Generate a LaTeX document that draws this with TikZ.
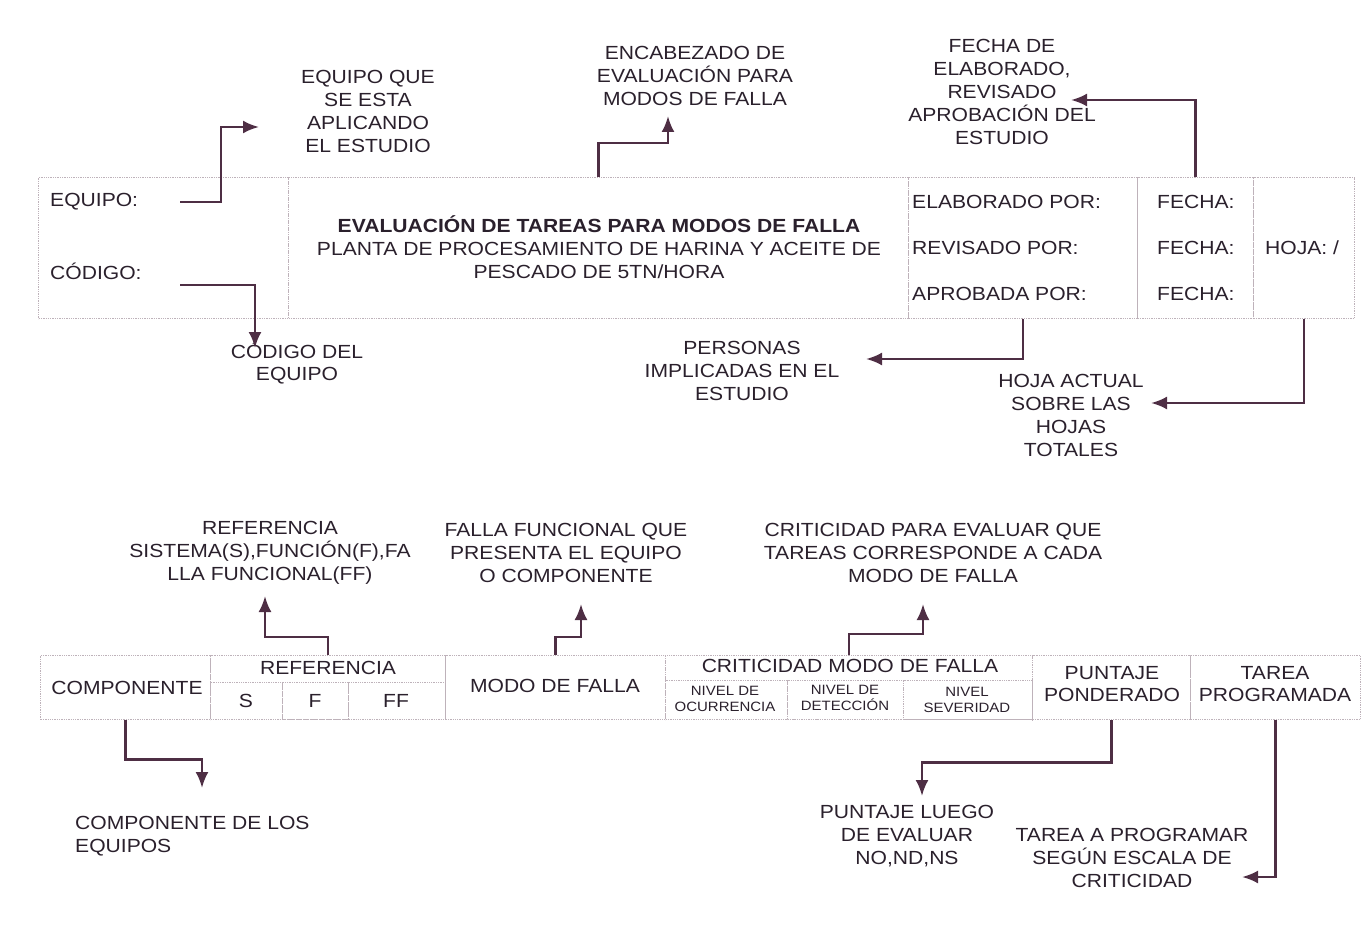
\documentclass[tikz,border=0pt]{standalone}
\usepackage{fontspec}
\setmainfont{Liberation Sans}[FakeStretch=1.11]
\usetikzlibrary{positioning,arrows.meta}
\definecolor{ink}{RGB}{42,32,44}
\definecolor{arrowink}{RGB}{78,46,68}
\definecolor{gridgray}{RGB}{190,178,186}
\newcommand{\normtxt}{\fontsize{19}{22.8}\selectfont}
\newcommand{\smalltxt}{\fontsize{13.5}{16}\selectfont}

\begin{document}
\begin{tikzpicture}[x=1pt,y=-1pt,
  cell/.style={draw=gridgray,densely dotted,line width=1.3pt,inner sep=0pt,anchor=north west},
  txt/.style={text=ink,font=\normtxt,align=center,inner sep=0pt},
  tinytxt/.style={text=ink,font=\smalltxt,align=center,inner sep=0pt},
  arr/.style={-{Latex[length=16pt,width=13pt]},draw=arrowink,line width=2.5pt}]
\useasboundingbox (0,0) rectangle (1363,939);
% encabezado
\node[cell,minimum width=250pt,minimum height=141pt] (eqcell) at (38,177) {};
\node[cell,minimum width=620pt,minimum height=141pt] (titlecell) at (288,177) {};
\node[cell,minimum width=229pt,minimum height=141pt] (firmacell) at (908,177) {};
\node[cell,minimum width=116pt,minimum height=141pt] (fechacell) at (1137,177) {};
\node[cell,minimum width=101pt,minimum height=141pt] (hojacell) at (1253,177) {};
\node[txt,anchor=west] (equipo) at (50,202) {EQUIPO:};
\node[txt,anchor=west] (codigo) at (50,271) {CÓDIGO:};
\node[txt] (titulo) at (599,247) {\textbf{EVALUACIÓN DE TAREAS PARA MODOS DE FALLA}\\PLANTA DE PROCESAMIENTO DE HARINA Y ACEITE DE\\PESCADO DE 5TN/HORA};
\node[txt,anchor=west] (elab) at (912,202) {ELABORADO POR:};
\node[txt,anchor=west] (revi) at (912,248) {REVISADO POR:};
\node[txt,anchor=west] (aprob) at (912,294) {APROBADA POR:};
\node[txt,anchor=west] (fecha1) at (1157,202) {FECHA:};
\node[txt,anchor=west] (fecha2) at (1157,248) {FECHA:};
\node[txt,anchor=west] (fecha3) at (1157,294) {FECHA:};
\node[txt,anchor=west] (hoja) at (1265,248) {HOJA: /};
\node[txt] (eqnote) at (368,111.5) {EQUIPO QUE\\SE ESTA\\APLICANDO\\EL ESTUDIO};
\node[txt] (codnote) at (297,363) {CÓDIGO DEL\\EQUIPO};
\node[txt] (encnote) at (695,76) {ENCABEZADO DE\\EVALUACIÓN PARA\\MODOS DE FALLA};
\node[txt] (fechanote) at (1002,92) {FECHA DE\\ELABORADO,\\REVISADO\\APROBACIÓN DEL\\ESTUDIO};
\node[txt] (persnote) at (742,371) {PERSONAS\\IMPLICADAS EN EL\\ESTUDIO};
\node[txt] (hojanote) at (1071,415.5) {HOJA ACTUAL\\SOBRE LAS\\HOJAS\\TOTALES};
\coordinate (eqA) at (180,202);
\coordinate (eqB) at (259,127);
\coordinate (codA) at (180,285);
\coordinate (codB) at (255,348);
\coordinate (encB) at (668,116);
\coordinate (fechaB) at (1071,100);
\coordinate (persB) at (866,359);
\coordinate (hojaB) at (1151,403);
\draw[arr] (eqA) -- ++(41,0) |- (eqB);
\draw[arr] (codA) -| (codB);
\draw[arr] (titlecell.north) -- ++(0,-34) -| (encB);
\draw[arr] (fechacell.north) |- (fechaB);
\draw[arr] (firmacell.south) |- (persB);
\draw[arr] (hojacell.south) |- (hojaB);
% tabla de evaluacion
\node[cell,minimum width=170pt,minimum height=64pt] (compcell) at (40,655) {};
\node[cell,minimum width=235pt,minimum height=64pt] (refcell) at (210,655) {};
\node[cell,minimum width=72pt,minimum height=37pt] (refS) at (210,682) {};
\node[cell,minimum width=66pt,minimum height=37pt] (refF) at (282,682) {};
\node[cell,minimum width=97pt,minimum height=37pt] (refFF) at (348,682) {};
\node[cell,minimum width=220pt,minimum height=64pt] (modocell) at (445,655) {};
\node[cell,minimum width=367pt,minimum height=64pt] (critcell) at (665,655) {};
\node[cell,minimum width=122pt,minimum height=39pt] (critO) at (665,680) {};
\node[cell,minimum width=116pt,minimum height=39pt] (critD) at (787,680) {};
\node[cell,minimum width=129pt,minimum height=39pt] (critS) at (903,680) {};
\node[cell,minimum width=158pt,minimum height=64pt] (puntcell) at (1032,655) {};
\node[cell,minimum width=170pt,minimum height=64pt] (tareacell) at (1190,655) {};
\node[txt] (comp) at (127,688) {COMPONENTE};
\node[txt] (ref) at (328,668) {REFERENCIA};
\node[txt] (s) at (246,701) {S};
\node[txt] (f) at (315,701) {F};
\node[txt] (ff) at (396,701) {FF};
\node[txt] (modo) at (555,686) {MODO DE FALLA};
\node[txt] (crit) at (850,666) {CRITICIDAD MODO DE FALLA};
\node[tinytxt] (ocur) at (725,699) {NIVEL DE\\OCURRENCIA};
\node[tinytxt] (detec) at (845,698) {NIVEL DE\\DETECCIÓN};
\node[tinytxt] (sever) at (967,700) {NIVEL\\SEVERIDAD};
\node[txt] (punt) at (1112,684) {PUNTAJE\\PONDERADO};
\node[txt] (tarea) at (1275,684) {TAREA\\PROGRAMADA};
\node[txt] (refnote) at (270,553) {REFERENCIA\\SISTEMA(S),FUNCIÓN(F),FA\\LLA FUNCIONAL(FF)};
\node[txt] (fallanote) at (566,553) {FALLA FUNCIONAL QUE\\PRESENTA EL EQUIPO\\O COMPONENTE};
\node[txt] (critnote) at (933,553) {CRITICIDAD PARA EVALUAR QUE\\TAREAS CORRESPONDE A CADA\\MODO DE FALLA};
\node[txt,anchor=west,align=left] (compnote) at (75,836.5) {COMPONENTE DE LOS\\EQUIPOS};
\node[txt] (puntnote) at (907,836) {PUNTAJE LUEGO\\DE EVALUAR\\NO,ND,NS};
\node[txt] (tareanote) at (1132,858) {TAREA A PROGRAMAR\\SEGÚN ESCALA DE\\CRITICIDAD};
\coordinate (refB) at (265,596);
\coordinate (modoB) at (581,604);
\coordinate (critB) at (923,604);
\coordinate (compB) at (202,788);
\coordinate (puntB) at (922,796);
\coordinate (tareaB) at (1242,877);
\draw[arr] (refcell.north) -- ++(0,-18) -| (refB);
\draw[arr] (modocell.north) -- ++(0,-18) -| (modoB);
\draw[arr] (critcell.north) -- ++(0,-21) -| (critB);
\draw[arr] (compcell.south) -- ++(0,39) -| (compB);
\draw[arr] (puntcell.south) -- ++(0,42) -| (puntB);
\draw[arr] (tareacell.south) |- (tareaB);
\end{tikzpicture}
\end{document}
